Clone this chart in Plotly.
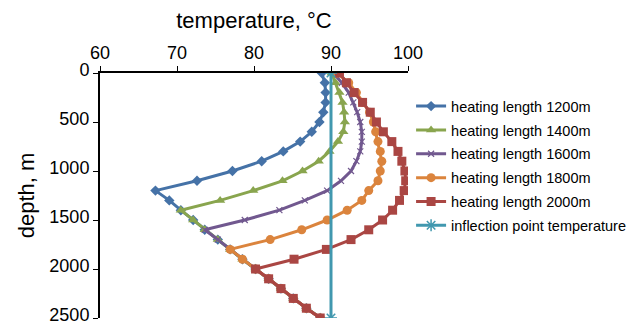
import plotly.graph_objects as go

depth = [0, 100, 200, 300, 400, 500, 600, 700, 800, 900, 1000, 1100, 1200,
         1300, 1400, 1500, 1600, 1700, 1800, 1900, 2000, 2100, 2200, 2300, 2400, 2500]

t1200 = [88.8, 89.2, 89.3, 89.3, 89.0, 88.5, 87.5, 86.0, 83.8, 81.0, 77.2, 72.6, 67.2,
         69.0, 70.5, 72.1, 73.6, 75.3, 76.9, 78.5, 80.2, 81.9, 83.5, 85.1, 86.8, 88.6]
t1400 = [90.1, 90.6, 91.1, 91.5, 91.7, 91.8, 91.6, 90.9, 89.8, 88.4, 86.3, 83.7, 79.9,
         75.6, 70.5, 72.1, 73.6, 75.3, 76.9, 78.5, 80.2, 81.9, 83.5, 85.1, 86.8, 88.6]
t1600 = [90.3, 91.4, 92.3, 92.9, 93.4, 93.8, 94.0, 94.0, 93.8, 93.3, 92.6, 91.3, 89.5,
         86.6, 83.3, 78.8, 73.6, 75.3, 76.9, 78.5, 80.2, 81.9, 83.5, 85.1, 86.8, 88.6]
t1800 = [90.8, 92.3, 93.3, 94.1, 95.0, 95.5, 95.8, 96.1, 96.4, 96.6, 96.4, 96.1, 94.9,
         94.0, 92.1, 89.5, 86.2, 82.1, 76.9, 78.5, 80.2, 81.9, 83.5, 85.1, 86.8, 88.6]
t2000 = [91.1, 92.0, 93.0, 94.1, 95.1, 95.9, 96.8, 97.9, 98.7, 99.2, 99.6, 99.7, 99.5,
         98.9, 98.0, 96.7, 94.9, 92.6, 89.4, 85.2, 80.2, 81.9, 83.5, 85.1, 86.8, 88.6]

inflection_depth = [0, 2500]
inflection_temp = [90.0, 90.0]

names = ["heating length 1200m", "heating length 1400m", "heating length 1600m",
         "heating length 1800m", "heating length 2000m"]
series = [t1200, t1400, t1600, t1800, t2000]
colors = ["#4572A7", "#89A54E", "#71588F", "#DB843D", "#AA4643"]
symbols = ["diamond", "triangle-up", "x-thin-open", "circle", "square"]
sizes = [8, 9, 6, 9, 9]

fig = go.Figure()
for i, (nm, s, c, sym, sz) in enumerate(zip(names, series, colors, symbols, sizes)):
    mk = dict(symbol=sym, size=sz, color=c)
    if sym == "x-thin-open":
        mk["line"] = dict(color=c, width=1.2)
    fig.add_trace(go.Scatter(x=s, y=depth, mode="lines+markers", name=nm,
                             line=dict(color=c, width=3), marker=mk,
                             legendgroup=str(i)))

fig.add_trace(go.Scatter(x=inflection_temp, y=inflection_depth, mode="lines+markers",
                         name="inflection point temperature",
                         line=dict(color="#4198AF", width=3),
                         marker=dict(symbol="asterisk-open", size=10,
                                     line=dict(color="#4198AF", width=1.5)),
                         legendgroup="5"))

# page body has an 8px default margin, so the figure is sized/offset accordingly
fig.update_layout(
    width=635, height=323,
    margin=dict(l=92, r=235, t=65, b=13, autoexpand=False),
    paper_bgcolor="white", plot_bgcolor="white",
    font=dict(family="Liberation Sans, Arial, sans-serif", size=15, color="black"),
    showlegend=True,
    legend=dict(x=1.01, y=0.93, xanchor="left", yanchor="top",
                font=dict(size=14.5), tracegroupgap=2, traceorder="grouped",
                itemwidth=30, bgcolor="rgba(0,0,0,0)"),
    xaxis=dict(side="top", range=[60, 100], tickvals=[60, 70, 80, 90, 100],
               showgrid=False, zeroline=False, showline=True, linecolor="black",
               linewidth=2, ticks="outside", ticklen=5, tickcolor="black",
               tickfont=dict(size=18), automargin=False, ticklabeloverflow="allow",
               title=dict(text="temperature, °C", font=dict(size=22), standoff=10)),
    yaxis=dict(range=[2500, 0], tickvals=[0, 500, 1000, 1500, 2000, 2500],
               showgrid=False, zeroline=False, showline=True, linecolor="black",
               linewidth=2, ticks="outside", ticklen=5, tickcolor="black",
               tickfont=dict(size=18), automargin=False, ticklabeloverflow="allow",
               ticklabelshift=3,
               title=dict(text="depth, m", font=dict(size=22), standoff=9)),
)

fig.write_html("out.html")
